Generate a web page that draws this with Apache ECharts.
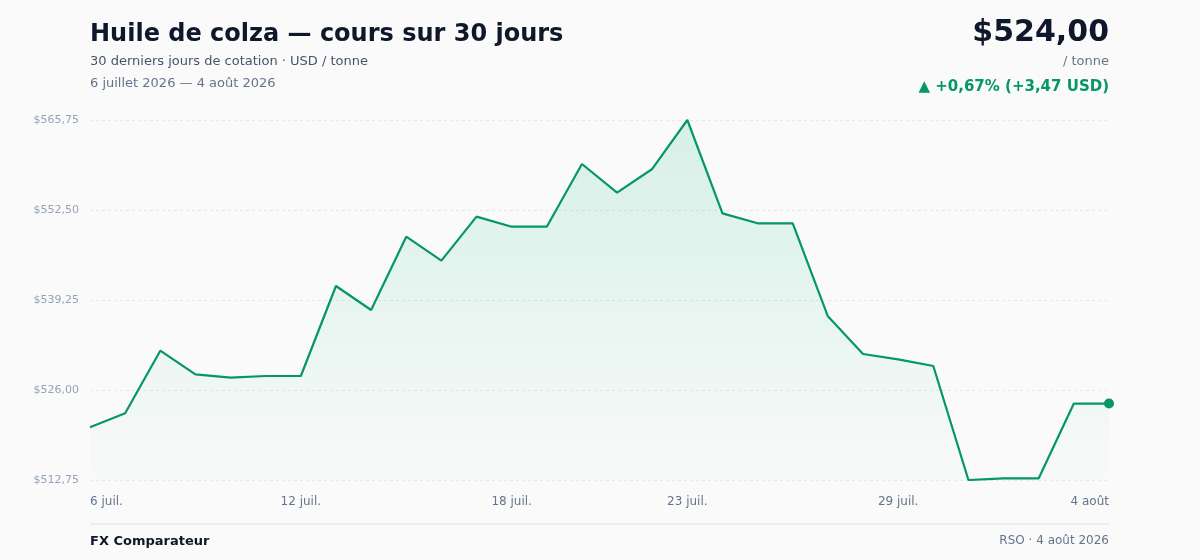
<!DOCTYPE html>
<html>
<head>
<meta charset="utf-8">
<script src="https://cdn.jsdelivr.net/npm/echarts@6/dist/echarts.min.js"></script>
<style>
html,body{margin:0;padding:0;background:#fafafa;}
#chart{width:1200px;height:560px;}
</style>
</head>
<body>
<div id="chart"></div>
<script>
const dates = ["6 juil.","7 juil.","8 juil.","9 juil.","10 juil.","11 juil.","12 juil.","13 juil.","14 juil.","15 juil.",
  "16 juil.","17 juil.","18 juil.","19 juil.","20 juil.","21 juil.","22 juil.","23 juil.","24 juil.","25 juil.",
  "26 juil.","27 juil.","28 juil.","29 juil.","30 juil.","31 juil.","1 août","2 août","3 août","4 août"];
const prices = [520.53,522.57,531.79,528.31,527.81,528.06,528.06,541.31,537.78,548.57,
  545.04,551.52,550.04,550.04,559.27,555.05,558.54,565.75,552.01,550.54,
  550.54,536.85,531.30,530.52,529.53,512.75,513.00,513.00,524.00,524.00];
const shownTicks = ["6 juil.","12 juil.","18 juil.","23 juil.","29 juil.","4 août"];
const yTicks = [512.75, 526.00, 539.25, 552.50, 565.75];

const titleText = "Huile de colza — cours sur 30 jours";
const subtitleText = "30 derniers jours de cotation · USD / tonne";
const rangeText = "6 juillet 2026 — 4 août 2026";
const priceText = "$524,00";
const unitText = "/ tonne";
const changeText = "▲ +0,67% (+3,47 USD)";
const sourceLeft = "FX Comparateur";
const sourceRight = "RSO · 4 août 2026";

const green = "#059669";
const FONT = "DejaVu Sans";
const fmt = v => "$" + v.toFixed(2).replace(".", ",");

const chart = echarts.init(document.getElementById("chart"), null, {renderer: "canvas"});
chart.setOption({
  backgroundColor: "#fafafa",
  animation: false,
  textStyle: {fontFamily: FONT},
  grid: {left: 90, right: 91, top: 120, bottom: 80, containLabel: false},
  xAxis: {
    type: "category",
    data: dates,
    boundaryGap: false,
    axisLine: {show: false},
    axisTick: {show: false},
    splitLine: {show: false},
    axisLabel: {
      interval: (i, v) => shownTicks.includes(v),
      color: "#64748b",
      fontSize: 12,
      fontFamily: FONT,
      margin: 16,
      alignMinLabel: "left",
      alignMaxLabel: "right",
      hideOverlap: false
    }
  },
  yAxis: {
    type: "value",
    min: yTicks[0],
    max: yTicks[yTicks.length - 1],
    interval: yTicks[1] - yTicks[0],
    axisLine: {show: false},
    axisTick: {show: false},
    axisLabel: {
      color: "#94a3b8",
      fontSize: 11,
      fontFamily: FONT,
      margin: 11,
      formatter: v => fmt(v)
    },
    splitLine: {lineStyle: {color: "#e5e7eb", type: [3, 3], width: 1}}
  },
  series: [{
    type: "line",
    data: prices,
    showSymbol: true,
    showAllSymbol: true,
    symbol: "circle",
    symbolSize: (v, p) => p.dataIndex === prices.length - 1 ? 10 : 0,
    itemStyle: {color: green},
    lineStyle: {color: green, width: 2.2},
    areaStyle: {
      color: new echarts.graphic.LinearGradient(0, 0, 0, 1, [
        {offset: 0, color: "rgba(16,185,129,0.22)"},
        {offset: 1, color: "rgba(16,185,129,0.01)"}
      ])
    },
    z: 3
  }],
  graphic: [
    {type: "text", left: 90, top: 23, style: {text: titleText, font: "bold 24px 'DejaVu Sans'", fill: "#0f172a"}},
    {type: "text", left: 90, top: 55, style: {text: subtitleText, font: "13px 'DejaVu Sans'", fill: "#475569"}},
    {type: "text", left: 90, top: 77, style: {text: rangeText, font: "13px 'DejaVu Sans'", fill: "#64748b"}},
    {type: "text", right: 91, top: 18, style: {text: priceText, font: "bold 30px 'DejaVu Sans'", fill: "#0f172a", textAlign: "right"}},
    {type: "text", right: 91, top: 55, style: {text: unitText, font: "13px 'DejaVu Sans'", fill: "#64748b", textAlign: "right"}},
    {type: "text", right: 91, top: 80, style: {text: changeText, font: "bold 15px 'DejaVu Sans'", fill: green, textAlign: "right"}},
    {type: "line", shape: {x1: 90, y1: 524, x2: 1109, y2: 524}, style: {stroke: "#e5e7eb", lineWidth: 1.5}},
    {type: "text", left: 90, top: 535, style: {text: sourceLeft, font: "bold 13px 'DejaVu Sans'", fill: "#0f172a"}},
    {type: "text", right: 91, top: 535, style: {text: sourceRight, font: "12px 'DejaVu Sans'", fill: "#64748b", textAlign: "right"}}
  ]
});
</script>
</body>
</html>
